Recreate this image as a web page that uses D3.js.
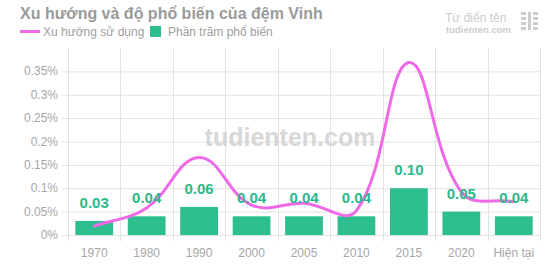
<!DOCTYPE html>
<html>
<head>
<meta charset="utf-8">
<script src="https://cdn.jsdelivr.net/npm/d3@7"></script>
<style>
  html, body { margin: 0; padding: 0; background: #fff; }
  svg { display: block; font-family: "Liberation Sans", Arial, sans-serif; }
</style>
</head>
<body>
<svg id="chart" width="550" height="275"></svg>
<script>
// chart data
const categories = ['1970', '1980', '1990', '2000', '2005', '2010', '2015', '2020', 'Hiện tại'];
const percentValues = [0.03, 0.04, 0.06, 0.04, 0.04, 0.04, 0.10, 0.05, 0.04];
const trendValues = [0.019, 0.058, 0.166, 0.064, 0.068, 0.052, 0.369, 0.092, 0.071];
const yTicks = [0, 0.05, 0.1, 0.15, 0.2, 0.25, 0.3, 0.35];

const svg = d3.select('#chart');
const margin = { left: 68, right: 10, top: 48, bottom: 40 };
const W = 550, H = 275;

const x = d3.scaleBand().domain(categories).range([margin.left, W - margin.right]).paddingInner(0).paddingOuter(0);
const y = d3.scaleLinear().domain([0, 0.4]).range([H - margin.bottom, margin.top]);

// ── GRID ──────────────────────────────────────────────
const grid = svg.append('g');
grid.selectAll('line.h').data(yTicks).join('line')
  .attr('x1', margin.left - 6).attr('x2', W - margin.right)
  .attr('y1', d => y(d) + 0.5).attr('y2', d => y(d) + 0.5)
  .attr('stroke', '#e2e2e2').attr('stroke-width', 1);

const vLines = categories.map(c => x(c)).concat([W - margin.right]);
grid.selectAll('line.v').data(vLines).join('line')
  .attr('x1', d => Math.round(d) + 0.5).attr('x2', d => Math.round(d) + 0.5)
  .attr('y1', margin.top).attr('y2', H - margin.bottom + 6)
  .attr('stroke', '#e2e2e2').attr('stroke-width', 1);

// y axis labels
svg.append('g').selectAll('text').data(yTicks).join('text')
  .attr('x', margin.left - 10).attr('y', d => y(d) + 4)
  .attr('text-anchor', 'end')
  .attr('font-size', 12).attr('fill', '#a6a6a6')
  .text(d => d === 0 ? '0%' : (d3.format('~g')(d) + '%'));

// x axis labels
svg.append('g').selectAll('text').data(categories).join('text')
  .attr('x', d => x(d) + x.bandwidth() / 2).attr('y', H - margin.bottom + 22)
  .attr('text-anchor', 'middle')
  .attr('font-size', 12).attr('fill', '#a6a6a6')
  .text(d => d);

// ── WATERMARK ─────────────────────────────────────────
svg.append('text')
  .attr('x', 290).attr('y', 146)
  .attr('text-anchor', 'middle')
  .attr('font-size', 25).attr('font-weight', 'bold')
  .attr('fill', '#cccccc').attr('opacity', 0.75)
  .text('tudienten.com');

// ── BARS ──────────────────────────────────────────────
const barW = x.bandwidth() * 0.72;
svg.append('g').selectAll('rect').data(percentValues).join('rect')
  .attr('x', (d, i) => x(categories[i]) + (x.bandwidth() - barW) / 2)
  .attr('y', d => y(d))
  .attr('width', barW)
  .attr('height', d => y(0) - y(d))
  .attr('fill', '#2dbe8f');

// ── TREND LINE (spline, tension 0.4 like chart.js) ────
const pts = trendValues.map((v, i) => [x(categories[i]) + x.bandwidth() / 2, y(v)]);
const splinePath = (p, t) => {
  const ctrl = p.map((cur, i) => {
    const prev = p[i - 1] || cur, next = p[i + 1] || cur;
    const d01 = Math.hypot(cur[0] - prev[0], cur[1] - prev[1]);
    const d12 = Math.hypot(next[0] - cur[0], next[1] - cur[1]);
    let fa = d01 / (d01 + d12) || 0, fb = d12 / (d01 + d12) || 0;
    fa *= t; fb *= t;
    return {
      prev: [cur[0] - fa * (next[0] - prev[0]), cur[1] - fa * (next[1] - prev[1])],
      next: [cur[0] + fb * (next[0] - prev[0]), cur[1] + fb * (next[1] - prev[1])]
    };
  });
  const path = d3.path();
  path.moveTo(p[0][0], p[0][1]);
  for (let i = 1; i < p.length; i++) {
    const c1 = ctrl[i - 1].next, c2 = ctrl[i].prev;
    path.bezierCurveTo(c1[0], c1[1], c2[0], c2[1], p[i][0], p[i][1]);
  }
  return path.toString();
};

svg.append('path')
  .attr('d', splinePath(pts, 0.4))
  .attr('fill', 'none')
  .attr('stroke', '#f06ae8')
  .attr('stroke-width', 3)
  .attr('stroke-linecap', 'round');

// bar value labels
svg.append('g').selectAll('text').data(percentValues).join('text')
  .attr('x', (d, i) => x(categories[i]) + x.bandwidth() / 2)
  .attr('y', d => y(d) - 13)
  .attr('text-anchor', 'middle')
  .attr('font-size', 15).attr('font-weight', 'bold')
  .attr('fill', '#2db88a')
  .text(d => d.toFixed(2));

// ── TITLE & LEGEND ────────────────────────────────────
svg.append('text')
  .attr('x', 20).attr('y', 19)
  .attr('font-size', 16).attr('font-weight', 'bold')
  .attr('fill', '#9a9a9a')
  .text('Xu hướng và độ phổ biến của đệm Vinh');

const legend = svg.append('g');
legend.append('line')
  .attr('x1', 20).attr('x2', 40).attr('y1', 31.5).attr('y2', 31.5)
  .attr('stroke', '#f06ae8').attr('stroke-width', 3);
legend.append('text')
  .attr('x', 43).attr('y', 36)
  .attr('font-size', 12).attr('fill', '#a0a0a0')
  .text('Xu hướng sử dụng');
legend.append('rect')
  .attr('x', 150).attr('y', 26).attr('width', 11).attr('height', 11)
  .attr('fill', '#2dbe8f');
legend.append('text')
  .attr('x', 168).attr('y', 36)
  .attr('font-size', 12).attr('fill', '#a0a0a0')
  .text('Phần trăm phổ biến');

// ── LOGO (top right) ──────────────────────────────────
const logo = svg.append('g').attr('fill', '#cccccc');
logo.append('text')
  .attr('x', 445).attr('y', 22)
  .attr('font-size', 12)
  .text('Từ điển tên');
logo.append('text')
  .attr('x', 446).attr('y', 33)
  .attr('font-size', 9.5).attr('font-weight', 'bold')
  .text('tudienten.com');
const iconBars = [[521, 12, 5, 3], [521, 17, 5, 3], [521, 22, 5, 3], [521, 27, 5, 3],
                  [528, 12, 3, 18], [533, 12, 5, 3], [533, 17, 5, 3], [533, 22, 5, 3], [533, 27, 5, 3]];
logo.selectAll('rect').data(iconBars).join('rect')
  .attr('x', d => d[0]).attr('y', d => d[1]).attr('width', d => d[2]).attr('height', d => d[3]);
</script>
</body>
</html>
